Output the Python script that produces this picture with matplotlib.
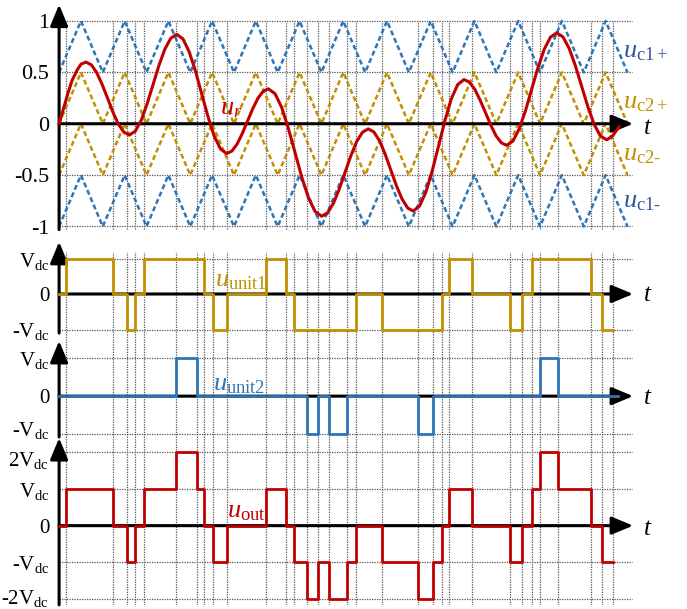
import matplotlib.pyplot as plt
from matplotlib.transforms import ScaledTranslation

plt.rcParams['font.family'] = 'Liberation Serif'
plt.rcParams['mathtext.fontset'] = 'custom'
plt.rcParams['mathtext.rm'] = 'Liberation Serif'
plt.rcParams['mathtext.it'] = 'Liberation Serif:italic'

# carrier vertices (time in carrier periods)
carrier_t = [0.0, 0.5, 1.0, 1.5, 2.0, 2.5, 3.0, 3.5, 4.0, 4.5, 5.0, 5.5, 6.0, 6.5,
             7.0, 7.5, 8.0, 8.5, 9.0, 9.5, 10.0, 10.5, 11.0, 11.5, 12.0, 12.5, 13.0]
uc1_plus = [0.5, 1, 0.5, 1, 0.5, 1, 0.5, 1, 0.5, 1, 0.5, 1, 0.5, 1,
            0.5, 1, 0.5, 1, 0.5, 1, 0.5, 1, 0.5, 1, 0.5, 1, 0.5]
uc2_plus = [0, 0.5, 0, 0.5, 0, 0.5, 0, 0.5, 0, 0.5, 0, 0.5, 0, 0.5,
            0, 0.5, 0, 0.5, 0, 0.5, 0, 0.5, 0, 0.5, 0, 0.5, 0]
uc2_minus = [-0.5, 0, -0.5, 0, -0.5, 0, -0.5, 0, -0.5, 0, -0.5, 0, -0.5, 0,
             -0.5, 0, -0.5, 0, -0.5, 0, -0.5, 0, -0.5, 0, -0.5, 0, -0.5]
uc1_minus = [-1, -0.5, -1, -0.5, -1, -0.5, -1, -0.5, -1, -0.5, -1, -0.5, -1, -0.5,
             -1, -0.5, -1, -0.5, -1, -0.5, -1, -0.5, -1, -0.5, -1, -0.5, -1]

# reference signal u_r
ur_t = [0, 0.089, 0.204, 0.295, 0.409, 0.501, 0.615,
        0.739, 0.862, 0.986, 1.112, 1.235, 1.359, 1.484, 1.606,
        1.741, 1.878, 2.013, 2.148, 2.283, 2.420, 2.555, 2.690,
        2.833, 2.976, 3.120, 3.262, 3.406, 3.548, 3.692, 3.833,
        3.952, 4.071, 4.190, 4.309, 4.428, 4.547, 4.666, 4.785,
        4.938, 5.091, 5.242, 5.396, 5.549, 5.702, 5.853, 6.006,
        6.139, 6.273, 6.407, 6.539, 6.672, 6.805, 6.940, 7.072,
        7.200, 7.331, 7.459, 7.587, 7.715, 7.845, 7.973, 8.102,
        8.246, 8.392, 8.536, 8.683, 8.827, 8.971, 9.117, 9.261,
        9.382, 9.506, 9.627, 9.751, 9.872, 9.993, 10.117, 10.238,
        10.382, 10.524, 10.668, 10.810, 10.954, 11.096, 11.240, 11.382,
        11.526, 11.668, 11.811, 11.953, 12.097, 12.239, 12.383, 12.525,
        12.658, 12.806]
ur_v = [0, 0.13, 0.30, 0.42, 0.52, 0.58, 0.60,
        0.573, 0.496, 0.381, 0.245, 0.109, -0.006, -0.083, -0.11,
        -0.073, 0.033, 0.193, 0.38, 0.567, 0.727, 0.833, 0.87,
        0.826, 0.70, 0.512, 0.29, 0.069, -0.121, -0.246, -0.29,
        -0.266, -0.198, -0.095, 0.025, 0.145, 0.248, 0.316, 0.34,
        0.293, 0.159, -0.043, -0.28, -0.517, -0.719, -0.853, -0.90,
        -0.868, -0.776, -0.637, -0.475, -0.313, -0.174, -0.082, -0.05,
        -0.08, -0.167, -0.297, -0.45, -0.603, -0.733, -0.82, -0.85,
        -0.80, -0.663, -0.455, -0.21, 0.035, 0.243, 0.381, 0.43,
        0.406, 0.337, 0.232, 0.11, -0.012, -0.117, -0.186, -0.21,
        -0.168, -0.05, 0.128, 0.338, 0.547, 0.725, 0.843, 0.885,
        0.845, 0.732, 0.562, 0.363, 0.163, -0.007, -0.12, -0.156,
        -0.12, -0.03]

# unit 1 output (levels in Vdc, step after each time)
unit1_t = [0, 0.151, 1.226, 1.546, 1.736, 1.949, 3.314, 3.527, 3.833, 4.726, 5.183, 5.380,
           6.784, 7.379, 8.751, 8.918, 9.437, 10.313, 10.581, 10.809, 12.159, 12.411, 12.662]
unit1_v = [0, 1, 0, -1, 0, 1, 0, -1, 0, 1, 0, -1,
           0, -1, 0, 1, 0, -1, 0, 1, 0, -1, -1]

# unit 2 output
unit2_t = [0, 2.674, 3.147, 5.677, 5.915, 6.180, 6.578, 8.202, 8.559, 10.999, 11.404, 12.78]
unit2_v = [0, 1, 0, -1, 0, -1, 0, -1, 0, 1, 0, 0]

# total output
out_t = [0, 0.151, 1.226, 1.546, 1.736, 1.949, 2.674, 3.147, 3.314, 3.527, 3.833, 4.726,
         5.183, 5.380, 5.677, 5.915, 6.180, 6.578, 6.784, 7.379, 8.202, 8.559, 8.751,
         8.918, 9.437, 10.313, 10.581, 10.809, 10.999, 11.404, 12.159, 12.411, 12.662]
out_v = [0, 1, 0, -1, 0, 1, 2, 1, 0, -1, 0, 1,
         0, -1, -2, -1, -2, -1, 0, -1, -2, -1, 0,
         1, 0, -1, 0, 1, 2, 1, 0, -1, -1]

# switching instants (vertical grid lines)
switch_t = [0.151, 1.226, 1.546, 1.736, 1.949, 2.674, 3.147, 3.314, 3.527, 3.833, 4.726,
            5.183, 5.380, 5.677, 5.915, 6.180, 6.578, 6.784, 7.379, 8.202, 8.559, 8.751,
            8.918, 9.437, 10.313, 10.581, 10.809, 10.999, 11.404, 12.159, 12.411, 12.662]

BLUE = '#2E75B6'
GOLD = '#C09000'
RED = '#C00000'
LBLUE = '#2F5597'
GRID = '#555555'

W, H = 687, 609
X0, PX_T = 59.1, 43.72
XLIM = (-X0 / PX_T, (W - X0) / PX_T)
T_GRID = 13.1
T_ARROW = 13.13


def box(top, bottom):
    return [0, 1 - bottom / H, 1, (bottom - top) / H]


def setup(ax, ylim, ticks, labels, size):
    ax.set_xlim(XLIM)
    ax.set_ylim(ylim)
    ax.patch.set_alpha(0)
    for s in ax.spines.values():
        s.set_visible(False)
    ax.spines['left'].set_position(('data', 0))
    ax.set_xticks([])
    ax.set_yticks(ticks)
    ax.set_yticklabels(labels)
    ax.tick_params(axis='y', length=0, pad=7, labelsize=size)


def nudge(label, dy_px):
    label.set_transform(label.get_transform() + ScaledTranslation(0, dy_px / 100, fig.dpi_scale_trans))


def arrows(ax, y_bot, y_top):
    ap = dict(arrowstyle='-|>,head_length=0.65,head_width=0.27', lw=2.2,
              color='black', mutation_scale=20, shrinkA=0, shrinkB=0)
    ax.annotate('', xy=(0, y_top), xytext=(0, y_bot), arrowprops=ap,
                annotation_clip=False, zorder=2)
    ax.annotate('', xy=(T_ARROW, 0), xytext=(0, 0), arrowprops=ap,
                annotation_clip=False, zorder=2)
    ax.text(T_ARROW + 0.22, -0.02 * (ax.get_ylim()[1] - ax.get_ylim()[0]), '$t$',
            fontsize=18, ha='left', va='center')


fig = plt.figure(figsize=(W / 100, H / 100), dpi=100)

# vertical grid shared by the three lower panels
axg = fig.add_axes(box(252, 605))
axg.set_xlim(XLIM)
axg.set_ylim(0, 1)
axg.axis('off')
axg.vlines(switch_t, 0, 1, colors=GRID, linestyles=(0, (1, 1)), lw=0.9)

grid_kw = dict(colors=GRID, linestyles=(0, (1, 1)), lw=0.9, zorder=1, clip_on=False)
dash_kw = dict(ls='--', dashes=(2, 1.2), lw=1.8, zorder=2, clip_on=False)
step_kw = dict(where='post', lw=2.0, zorder=3, clip_on=False)

# panel 1: carriers and reference
ax1 = fig.add_axes(box(21, 226.5))
setup(ax1, (-1, 1), [1, 0.5, 0, -0.5, -1], ['1', '0.5', '0', '-0.5', '-1'], 16)
ax1.hlines([1, 0.5, -0.5, -1], 0, T_GRID, **grid_kw)
ax1.vlines(switch_t, -1.02, 1, **grid_kw)
ax1.plot(carrier_t, uc1_plus, color=BLUE, **dash_kw)
ax1.plot(carrier_t, uc2_plus, color=GOLD, **dash_kw)
ax1.plot(carrier_t, uc2_minus, color=GOLD, **dash_kw)
ax1.plot(carrier_t, uc1_minus, color=BLUE, **dash_kw)
arrows(ax1, -1.03, 1.16)
ax1.plot(ur_t, ur_v, color=RED, lw=2.2, zorder=3, clip_on=False)
ax1.text(3.68, 0.14, '$u_r$', color=RED, fontsize=19, ha='left', va='center')
ax1.text(12.9, 0.70, r'$u_{\mathrm{c1+}}$', color=LBLUE, fontsize=19, ha='left', va='center')
ax1.text(12.9, 0.20, r'$u_{\mathrm{c2+}}$', color=GOLD, fontsize=19, ha='left', va='center')
ax1.text(12.9, -0.30, r'$u_{\mathrm{c2\text{-}}}$', color=GOLD, fontsize=19, ha='left', va='center')
ax1.text(12.9, -0.76, r'$u_{\mathrm{c1\text{-}}}$', color=LBLUE, fontsize=19, ha='left', va='center')

vdc = ['V$_{\\mathrm{dc}}$', '0', '-V$_{\\mathrm{dc}}$']

# panel 2: unit 1
ax2 = fig.add_axes(box(258.5, 329.5))
setup(ax2, (-1, 1), [1, 0, -1], vdc, 15)
ax2.hlines([1, -1], 0, T_GRID, **grid_kw)
arrows(ax2, -1.1, 1.47)
ax2.step(unit1_t, unit1_v, color=GOLD, **step_kw)
ax2.text(3.57, 0.36, r'$u_{\mathrm{unit1}}$', color=GOLD, fontsize=19, ha='left', va='center')

# panel 3: unit 2
ax3 = fig.add_axes(box(358.3, 434))
setup(ax3, (-1, 1), [1, 0, -1], vdc, 15)
ax3.hlines([1, -1], 0, T_GRID, **grid_kw)
arrows(ax3, -1.08, 1.46)
ax3.step(unit2_t, unit2_v, color=BLUE, **step_kw)
ax3.text(3.52, 0.30, r'$u_{\mathrm{unit2}}$', color=BLUE, fontsize=19, ha='left', va='center')
nudge(ax3.get_yticklabels()[2], 6)

# panel 4: output
ax4 = fig.add_axes(box(452.3, 599))
setup(ax4, (-2, 2), [2, 1, 0, -1, -2],
      ['2V$_{\\mathrm{dc}}$', 'V$_{\\mathrm{dc}}$', '0', '-V$_{\\mathrm{dc}}$', '-2V$_{\\mathrm{dc}}$'], 15)
ax4.hlines([2, 1, -1, -2], 0, T_GRID, **grid_kw)
arrows(ax4, -2.16, 2.39)
ax4.step(out_t, out_v, color=RED, **step_kw)
ax4.text(3.84, 0.36, r'$u_{\mathrm{out}}$', color=RED, fontsize=19, ha='left', va='center')
nudge(ax4.get_yticklabels()[0], -6)
nudge(ax4.get_yticklabels()[4], 3)

fig.savefig('out.png', dpi=100)
